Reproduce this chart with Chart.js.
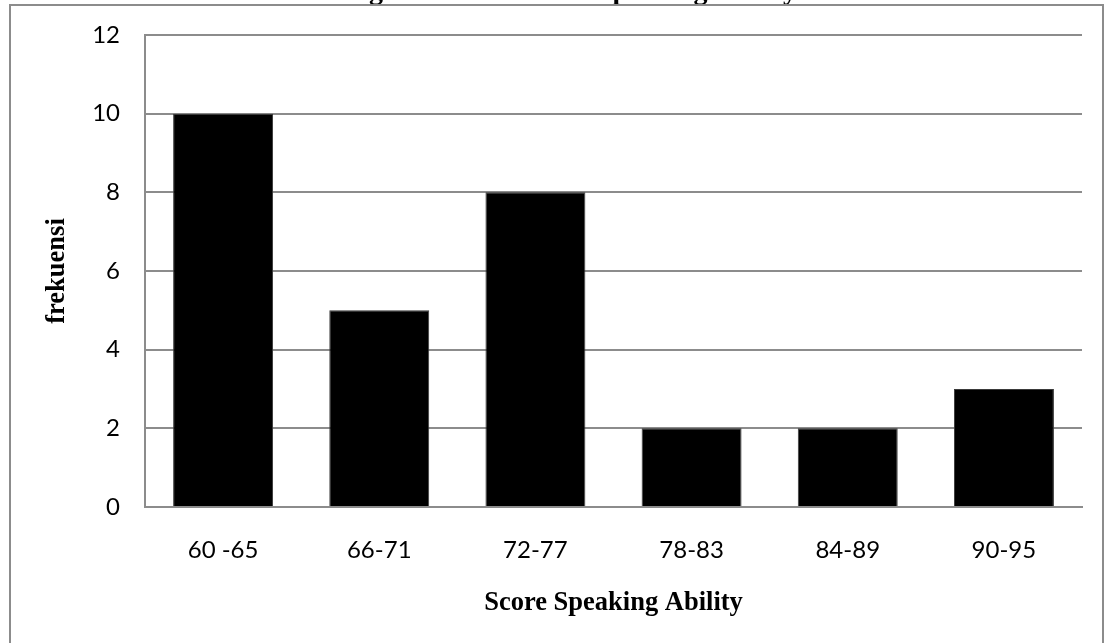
<!DOCTYPE html>
<html>
<head>
<meta charset="utf-8">
<script src="https://cdn.jsdelivr.net/npm/chart.js@4/dist/chart.umd.min.js"></script>
<style>
  html, body { margin: 0; padding: 0; background: #fff; overflow: hidden; }
  #wrap { position: relative; width: 1113px; height: 643px; }
</style>
</head>
<body>
<div id="wrap"><canvas id="histChart" width="1113" height="643"></canvas></div>
<script>
// --- data ---
const scoreRanges = ['60 -65', '66-71', '72-77', '78-83', '84-89', '90-95'];
const frekuensi = [10, 5, 8, 2, 2, 3];
const yTicks = [0, 2, 4, 6, 8, 10, 12];
const chartTitle = 'Histogram of The Score Speaking Ability';

const GRID = '#8c8c8c';
const serifBold = { family: '"Liberation Serif", "Times New Roman", serif', weight: 'bold' };

// outer frame + title that runs off the top edge
const framePlugin = {
    id: 'frame',
    beforeDraw(chart) {
        const ctx = chart.ctx;
        ctx.save();
        ctx.fillStyle = '#fff';
        ctx.fillRect(0, 0, chart.width, chart.height);
        ctx.restore();
    },
    afterDraw(chart) {
        const ctx = chart.ctx;
        ctx.save();
        ctx.font = 'bold 28px "Liberation Serif", serif';
        ctx.fillStyle = '#000';
        ctx.textAlign = 'right';
        ctx.textBaseline = 'alphabetic';
        ctx.fillText(chartTitle, 797, -1);
        ctx.strokeStyle = GRID;
        ctx.lineWidth = 2;
        ctx.strokeRect(10, 5, 1093, 700);
        ctx.restore();
    }
};

new Chart(document.getElementById('histChart'), {
    type: 'bar',
    data: {
        labels: scoreRanges,
        datasets: [{
            label: 'frekuensi',
            data: frekuensi,
            backgroundColor: '#000',
            borderColor: '#3a3a3a',
            borderWidth: 1,
            categoryPercentage: 1,
            barPercentage: 0.64
        }]
    },
    plugins: [framePlugin],
    options: {
        responsive: false,
        animation: false,
        layout: { padding: { left: 37, top: 35, right: 31, bottom: 0 } },
        plugins: { legend: { display: false }, tooltip: { enabled: false } },
        scales: {
            x: {
                grid: { display: false, drawTicks: false },
                border: { color: GRID, width: 2 },
                ticks: { color: '#000', padding: 29, font: { family: 'Lato', size: 24 } },
                title: { display: true, text: 'Score Speaking Ability', color: '#000', padding: { top: 6, bottom: 24 },
                    font: { ...serifBold, size: 26.5 } },
                afterFit(scale) { scale.height = 136; }
            },
            y: {
                min: 0, max: 12,
                afterBuildTicks(scale) { scale.ticks = yTicks.map(v => ({ value: v })); },
                grid: { color: GRID, lineWidth: 2, drawTicks: false },
                border: { color: GRID, width: 2 },
                ticks: { color: '#000', padding: 25, font: { family: 'Lato', size: 24 } },
                title: { display: true, text: 'frekuensi', color: '#000',
                    font: { ...serifBold, size: 26.5 } },
                afterFit(scale) {
                    scale.width = 108;
                    scale.paddingTop = 0;
                    scale.paddingBottom = 0;
                }
            }
        }
    }
});
</script>
</body>
</html>
